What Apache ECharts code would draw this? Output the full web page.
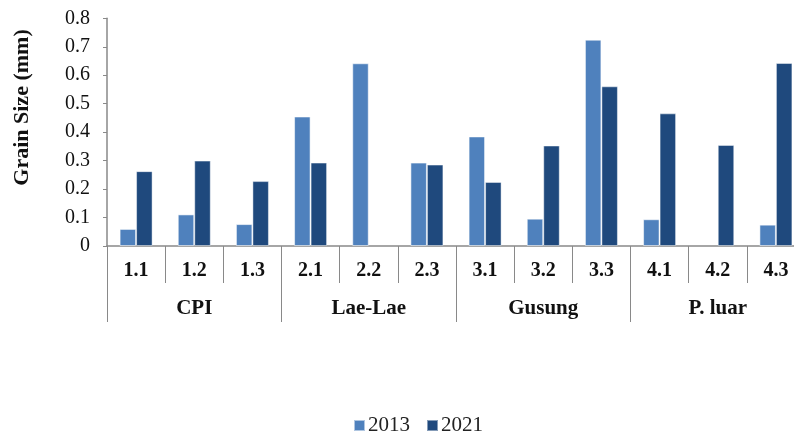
<!DOCTYPE html>
<html>
<head>
<meta charset="utf-8">
<script src="https://cdn.jsdelivr.net/npm/echarts@6/dist/echarts.min.js"></script>
<style>
  html, body { margin: 0; padding: 0; background: #fff; }
  #chart { width: 794px; height: 432px; }
</style>
</head>
<body>
<div id="chart"></div>
<script>
// Sampling stations and their location groups
const stations = ['1.1', '1.2', '1.3', '2.1', '2.2', '2.3', '3.1', '3.2', '3.3', '4.1', '4.2', '4.3'];
const locations = ['CPI', 'Lae-Lae', 'Gusung', 'P. luar'];

// Mean grain size (mm) per station
const size2013 = [0.060, 0.111, 0.077, 0.455, 0.642, 0.293, 0.385, 0.096, 0.725, 0.094, null, 0.075];
const size2021 = [0.263, 0.300, 0.228, 0.293, null, 0.286, 0.225, 0.353, 0.561, 0.466, 0.355, 0.643];

const serif = '"Liberation Serif", "Times New Roman", serif';
const axisGray = '#898989';

const chart = echarts.init(document.getElementById('chart'), null, { renderer: 'canvas' });

chart.setOption({
  animation: false,
  backgroundColor: '#ffffff',
  grid: {
    left: 107, top: 18.3, width: 698, height: 227.7,
    containLabel: false, outerBoundsMode: 'none'
  },
  graphic: [
    {
      type: 'text',
      x: 22,
      y: 107.5,
      rotation: Math.PI / 2,
      style: {
        text: 'Grain Size (mm)',
        font: 'bold 22px ' + serif,
        fill: '#111',
        align: 'center',
        verticalAlign: 'middle'
      }
    }
  ],
  legend: {
    data: ['2013', '2021'],
    top: 415,
    left: 353,
    padding: 0,
    itemWidth: 11,
    itemHeight: 11,
    itemGap: 16,
    icon: 'rect',
    textStyle: { fontFamily: serif, fontSize: 21, color: '#222', padding: [0, 0, 0, -2] }
  },
  xAxis: [
    {
      type: 'category',
      data: stations,
      position: 'bottom',
      axisLine: { lineStyle: { color: axisGray, width: 1.5 } },
      axisTick: { show: true, length: 37, inside: false, lineStyle: { color: axisGray, width: 1 } },
      axisLabel: { margin: 15, fontFamily: serif, fontSize: 20, fontWeight: 'bold', color: '#111' }
    },
    {
      type: 'category',
      data: locations,
      position: 'bottom',
      axisLine: { show: false },
      axisTick: { show: true, length: 76, lineStyle: { color: axisGray, width: 1 } },
      axisLabel: { margin: 52, fontFamily: serif, fontSize: 21, fontWeight: 'bold', color: '#111' }
    }
  ],
  yAxis: {
    type: 'value',
    min: 0,
    max: 0.8,
    interval: 0.1,
    axisLine: { show: true, lineStyle: { color: axisGray, width: 1.5 } },
    axisTick: { show: true, length: 4, lineStyle: { color: axisGray } },
    splitLine: { show: false },
    axisLabel: {
      margin: 17,
      fontFamily: serif,
      fontSize: 20,
      color: '#111',
      formatter: v => (v === 0 ? '0' : v.toFixed(1))
    }
  },
  series: [
    {
      name: '2013',
      type: 'bar',
      data: size2013,
      barWidth: 16.5,
      barGap: '0%',
      itemStyle: { color: '#4F81BD', borderColor: 'rgba(255,255,255,0.55)', borderWidth: 1 }
    },
    {
      name: '2021',
      type: 'bar',
      data: size2021,
      barWidth: 16.5,
      barGap: '0%',
      itemStyle: { color: '#1F497D', borderColor: 'rgba(255,255,255,0.45)', borderWidth: 1 }
    }
  ]
});
</script>
</body>
</html>
